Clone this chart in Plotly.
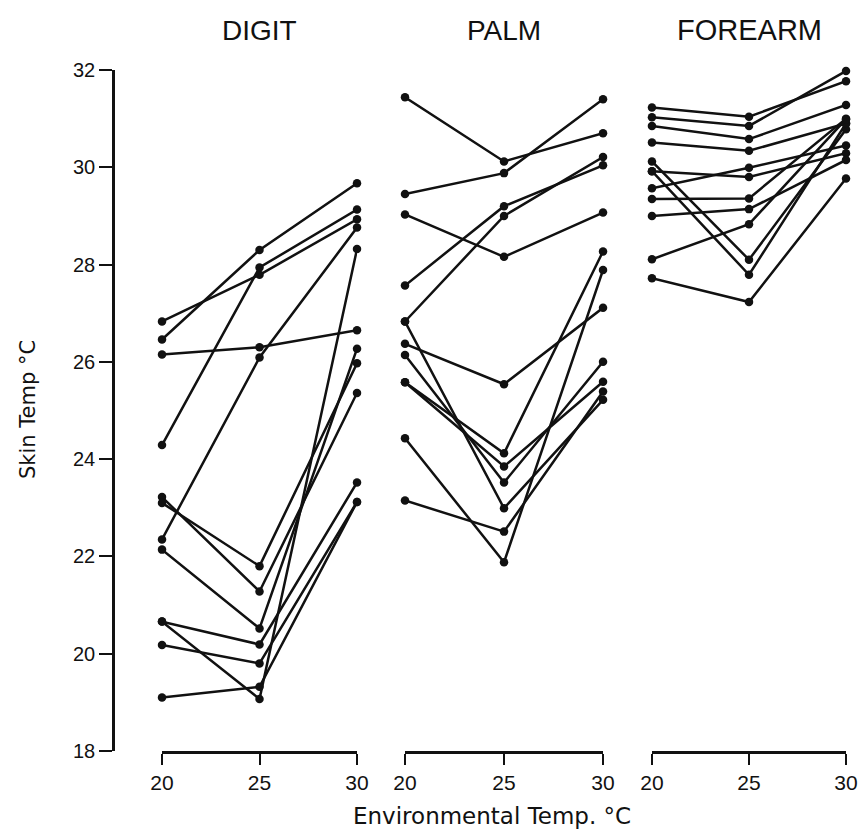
import plotly.graph_objects as go

env_temps = [20, 25, 30]
tick_vals_y = [18, 20, 22, 24, 26, 28, 30, 32]

# skin temperature (°C) for each subject at 20, 25 and 30 °C
digit_20 = [26.83, 26.46, 26.15, 24.29, 23.22, 23.10, 22.35, 22.14, 20.66, 20.66, 20.18, 19.10]
digit_25 = [27.79, 28.30, 26.30, 27.94, 21.28, 21.80, 26.09, 20.52, 20.19, 19.07, 19.80, 19.32]
digit_30 = [28.93, 29.67, 26.65, 29.13, 25.36, 25.97, 28.76, 26.27, 23.52, 28.32, 23.12, 23.12]

palm_20 = [31.44, 29.45, 29.03, 27.57, 26.83, 26.83, 26.37, 26.14, 25.58, 25.58, 24.43, 23.15]
palm_25 = [30.12, 29.88, 28.16, 29.20, 29.00, 22.99, 25.54, 23.52, 24.12, 23.85, 21.88, 22.51]
palm_30 = [30.70, 31.40, 29.07, 30.04, 30.21, 25.22, 27.11, 26.00, 28.27, 25.59, 27.89, 25.39]

forearm_20 = [31.23, 31.03, 30.85, 30.51, 30.12, 29.92, 29.92, 29.57, 29.35, 29.00, 28.11, 27.72]
forearm_25 = [31.04, 30.85, 30.58, 30.34, 28.10, 29.80, 27.79, 29.99, 29.36, 29.14, 28.83, 27.23]
forearm_30 = [31.77, 31.98, 31.28, 30.90, 30.78, 30.29, 30.90, 30.45, 31.00, 30.15, 30.99, 29.77]

panels = [
    ("x", digit_20, digit_25, digit_30),
    ("x2", palm_20, palm_25, palm_30),
    ("x3", forearm_20, forearm_25, forearm_30),
]

FONT = "Liberation Sans"
WIDE_FONT = "DejaVu Sans"
INK = "#111111"

fig = go.Figure()

for xref, s20, s25, s30 in panels:
    for a, b, c in zip(s20, s25, s30):
        fig.add_trace(go.Scatter(
            x=env_temps,
            y=[a, b, c],
            xaxis=xref,
            yaxis="y",
            mode="lines+markers",
            line=dict(color=INK, width=2.5),
            marker=dict(color=INK, size=8.5),
            cliponaxis=False,
            showlegend=False,
            hoverinfo="skip"
        ))

xaxis_common = dict(
    range=[20, 30],
    tickvals=env_temps,
    showline=True,
    linecolor=INK,
    linewidth=2.6,
    ticks="outside",
    ticklen=11,
    tickwidth=2.2,
    tickcolor=INK,
    showgrid=False,
    zeroline=False,
    anchor="y",
    automargin=False,
    tickfont=dict(family=FONT, size=21, color=INK),
)

title_font = dict(family=FONT, size=28, color=INK)

fig.update_layout(
    width=860,
    height=830,
    plot_bgcolor="white",
    paper_bgcolor="white",
    margin=dict(l=113, r=10, t=70, b=79),
    xaxis=dict(domain=[0.0665, 0.3311], **xaxis_common),
    xaxis2=dict(domain=[0.3962, 0.6649], **xaxis_common),
    xaxis3=dict(domain=[0.7313, 0.9946], **xaxis_common),
    yaxis=dict(
        range=[18, 32],
        tickvals=tick_vals_y,
        anchor="free",
        position=0,
        automargin=False,
        showline=True,
        linecolor=INK,
        linewidth=2.6,
        ticks="outside",
        ticklen=13,
        tickwidth=2.2,
        tickcolor=INK,
        showgrid=False,
        zeroline=False,
        tickfont=dict(family=FONT, size=20, color=INK),
    ),
    annotations=[
        dict(text="DIGIT", x=0.1988, y=1.0, xref="paper", yref="paper", yshift=40,
             xanchor="center", yanchor="middle", showarrow=False, font=title_font),
        dict(text="PALM", x=0.5305, y=1.0, xref="paper", yref="paper", yshift=40,
             xanchor="center", yanchor="middle", showarrow=False, font=title_font),
        dict(text="FOREARM", x=0.8640, y=1.0, xref="paper", yref="paper", yshift=40,
             xanchor="center", yanchor="middle", showarrow=False,
             font=dict(family=FONT, size=29, color=INK)),
        dict(text="Environmental Temp. °C", x=0.5143, y=0, xref="paper", yref="paper",
             yshift=-65, xanchor="center", yanchor="middle", showarrow=False,
             font=dict(family=WIDE_FONT, size=23, color=INK)),
        dict(text="Skin Temp °C", x=-0.1153, y=0.5007, xref="paper", yref="paper",
             xanchor="center", yanchor="middle", textangle=-90, showarrow=False,
             font=dict(family=WIDE_FONT, size=21, color=INK)),
    ],
)

# drop the default page margin so the figure sits at the window's corner
fig.write_html(
    "out.html",
    config={"displayModeBar": False},
    post_script="document.body.style.margin='0';document.body.style.overflow='hidden';"
)
